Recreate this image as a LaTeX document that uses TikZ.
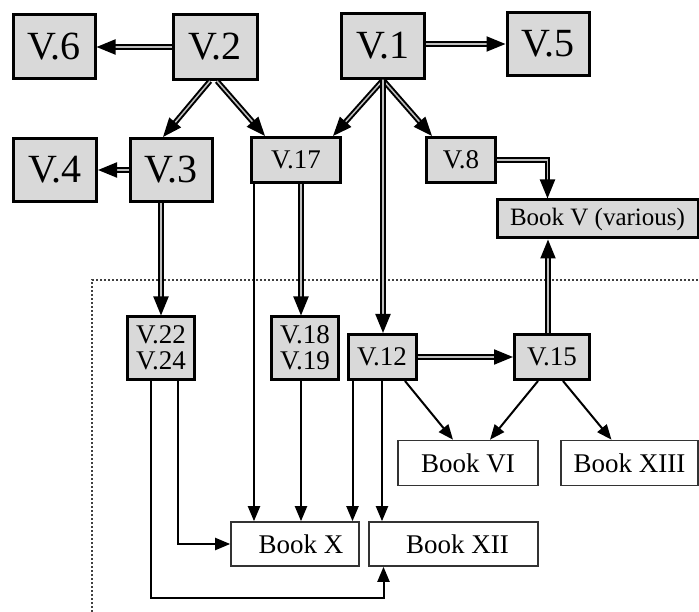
\documentclass[tikz,border=0pt]{standalone}
\usepackage{fontspec}
\setmainfont{Liberation Serif}
\usepackage{xcolor}
\usetikzlibrary{arrows.meta, positioning, calc}
\definecolor{boxgray}{gray}{0.85}

\begin{document}
\begin{tikzpicture}[x=1pt, y=-1pt,
    vbox/.style={draw, line width=3pt, fill=boxgray, inner sep=0pt, font=\fontsize{40}{44}\selectfont},
    vsmall/.style={draw, line width=3pt, fill=boxgray, inner sep=0pt, align=center, font=\fontsize{27}{32}\selectfont},
    book/.style={draw=black!80, line width=1.6pt, fill=white, inner sep=0pt, font=\fontsize{27}{32}\selectfont},
    dbl/.style={double=black!25, double distance=1.5pt, line width=2pt, -{Triangle[length=19pt, width=15pt]}},
    sgl/.style={line width=2pt, -{Triangle[length=15pt, width=12pt]}}]
      \useasboundingbox (0,0) rectangle (699,612);
      \draw [black!75, line width=2pt, dash pattern=on 2pt off 2pt] (92,612) |- (699,280);

      \node[vbox, minimum width=82pt, minimum height=64pt] (v6) at (54,47) {V.6};
      \node[vbox, minimum width=84pt, minimum height=65pt] (v2) at (215,47) {V.2};
      \node[vbox, minimum width=83pt, minimum height=65pt] (v1) at (383,46) {V.1};
      \node[vbox, minimum width=82pt, minimum height=63pt] (v5) at (548,44) {V.5};
      \node[vbox, minimum width=83pt, minimum height=63pt] (v4) at (55,170) {V.4};
      \node[vbox, minimum width=82pt, minimum height=63pt] (v3) at (171,170) {V.3};
      \node[vsmall, minimum width=89pt, minimum height=45pt] (v17) at (296,160) {V.17};
      \node[vsmall, minimum width=69pt, minimum height=45pt] (v8) at (461,160) {V.8};
      \node[vsmall, minimum width=201pt, minimum height=38pt, font=\fontsize{25}{30}\selectfont] (bookv) at (597.5,219) {Book V (various)};
      \node[vsmall, minimum width=67pt, minimum height=62pt] (v22) at (161,348) {V.22\\[-6pt]V.24};
      \node[vsmall, minimum width=67pt, minimum height=62pt] (v18) at (305,348) {V.18\\[-6pt]V.19};
      \node[vsmall, minimum width=68pt, minimum height=45pt] (v12) at (382,357) {V.12};
      \node[vsmall, minimum width=75pt, minimum height=45pt] (v15) at (552,357) {V.15};
      \node[book, minimum width=140pt, minimum height=45pt] (book6) at (468,463) {Book VI};
      \node[book, minimum width=137pt, minimum height=45pt] (book13) at (629.5,463) {Book XIII};
      \node[book, minimum width=128pt, minimum height=44pt] (bookx) at (295,544) {\hspace{12pt}Book X};
      \node[book, minimum width=169pt, minimum height=44pt] (book12) at (453.5,544) {\hspace{8pt}Book XII};

      \draw [dbl] (v2.west) -- (v6.east);
      \draw [dbl] (v5.west -| v1.east) -- (v5.west);
      \draw [dbl] (v3.west) -- (v4.east);
      \draw [dbl] ([xshift=-5pt]v2.south) -- ([xshift=-8pt]v3.north);
      \draw [dbl] ([xshift=2pt]v2.south) -- ([xshift=-31pt]v17.north);
      \draw [dbl] (v1.south) -- ([xshift=37pt]v17.north);
      \draw [dbl] (v1.south) -- ([xshift=-29pt]v8.north);
      \draw [dbl] (v1.south) -- (v1.south |- v12.north);
      \draw [dbl] (v8.east) -| ([xshift=-50pt]bookv.north);
      \draw [dbl] ([xshift=-4pt]v15.north) -- ([xshift=-4pt]v15.north |- bookv.south);
      \draw [dbl] (v22.north |- v3.south) -- (v22.north);
      \draw [dbl] ([xshift=-4pt]v18.north |- v17.south) -- ([xshift=-4pt]v18.north);
      \draw [dbl] (v12.east) -- (v15.west);

      \draw [sgl] ([xshift=4pt]v17.south west) -- ([xshift=4pt]v17.south west |- bookx.north);
      \draw [sgl] ([xshift=-4pt]v18.south) -- ([xshift=-4pt]v18.south |- bookx.north);
      \draw [sgl] ([xshift=6pt]v12.south west) -- ([xshift=6pt]v12.south west |- bookx.north);
      \draw [sgl] (v12.south) -- (v12.south |- book12.north);
      \draw [sgl] ([xshift=23pt]v12.south) -- ([xshift=-15pt]book6.north);
      \draw [sgl] ([xshift=-14pt]v15.south) -- ([xshift=22pt]book6.north);
      \draw [sgl] ([xshift=11pt]v15.south) -- ([xshift=-18pt]book13.north);
      \draw [sgl] ([xshift=17pt]v22.south) |- (bookx.west);
      \draw [sgl] ([xshift=-10pt]v22.south) -- ++(0,217) -| ([xshift=-70pt]book12.south);
    \end{tikzpicture}
\end{document}
